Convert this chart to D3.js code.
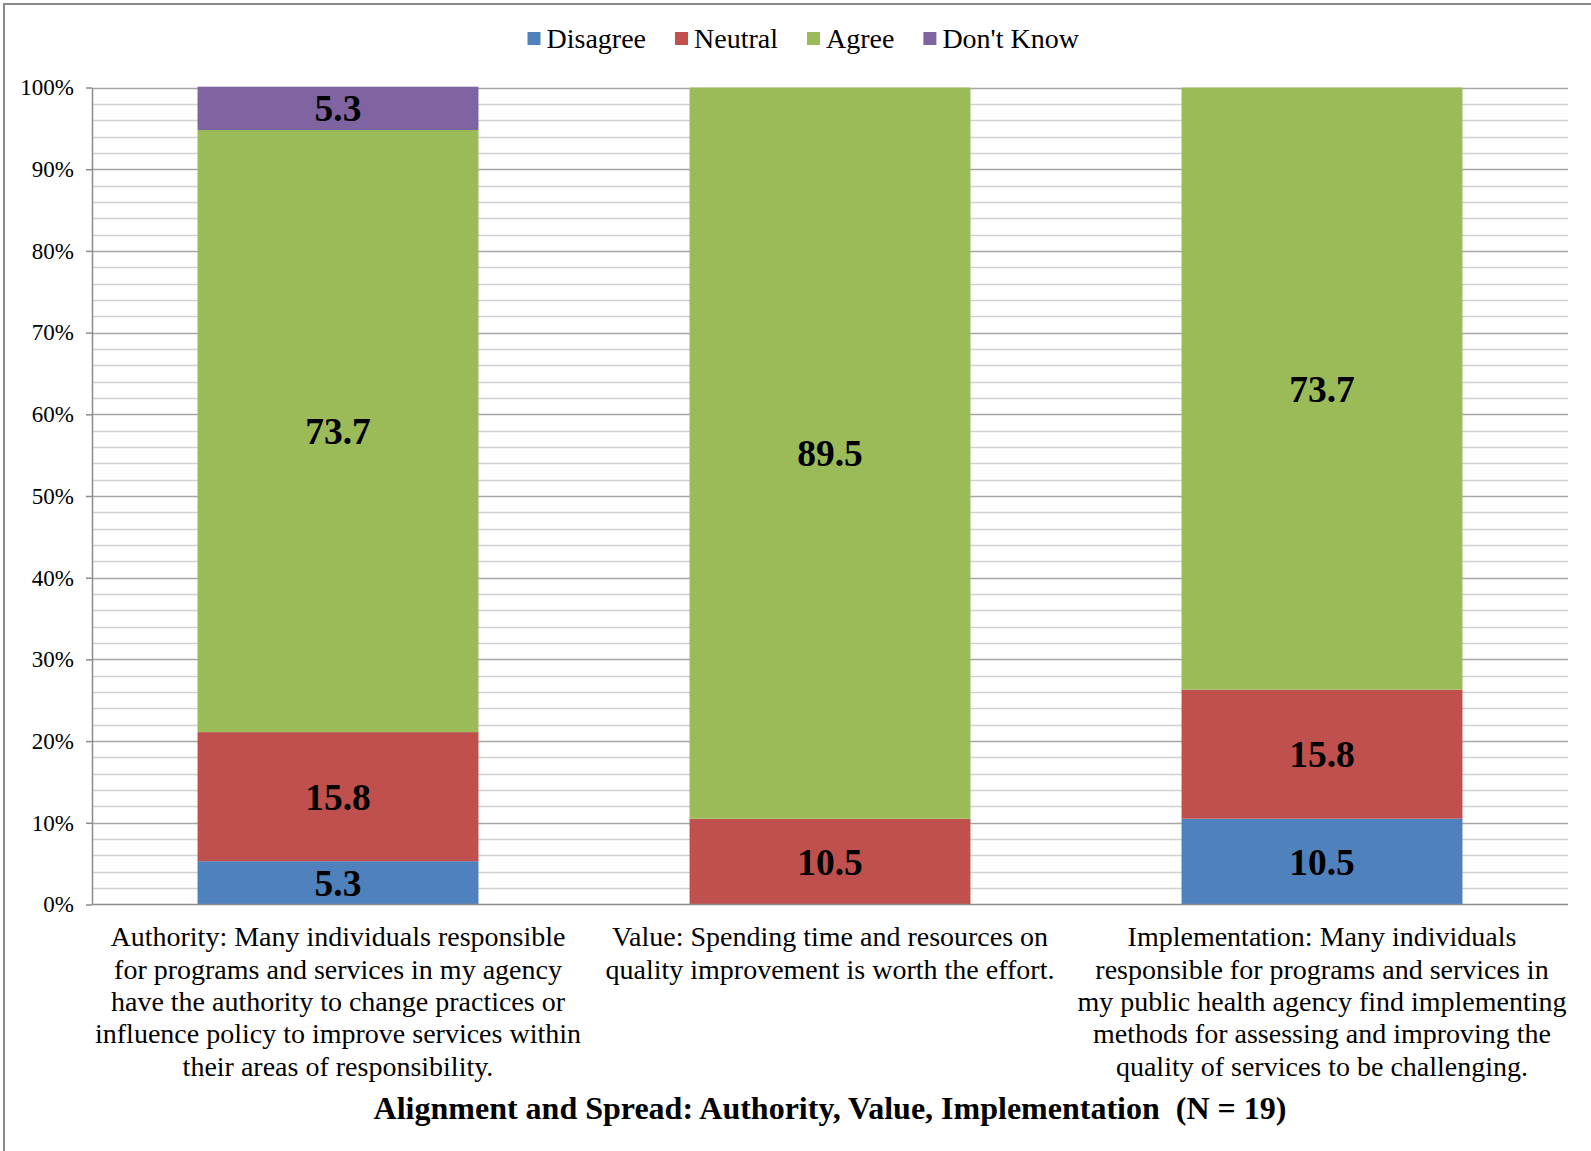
<!DOCTYPE html>
<html>
<head>
<meta charset="utf-8">
<script src="https://cdn.jsdelivr.net/npm/d3@7"></script>
<style>
  html, body { margin: 0; padding: 0; background: #fff; }
  svg { display: block; }
  text { font-family: "Liberation Serif", "Times New Roman", serif; fill: #000; }
</style>
</head>
<body>
<svg id="chart" width="1591" height="1151"></svg>
<script>
// ---- Data ----
const categories = [
  "Authority: Many individuals responsible for programs and services in my agency have the authority to change practices or influence policy to improve services within their areas of responsibility.",
  "Value: Spending time and resources on quality improvement is worth the effort.",
  "Implementation: Many individuals responsible for programs and services in my public health agency find implementing methods for assessing and improving the quality of services to be challenging."
];
const categoryLines = [
  ["Authority: Many individuals responsible", "for programs and services in my agency", "have the authority to change practices or", "influence policy to improve services within", "their areas of responsibility."],
  ["Value: Spending time and resources on", "quality improvement is worth the effort."],
  ["Implementation: Many individuals", "responsible for programs and services in", "my public health agency find implementing", "methods for assessing and improving the", "quality of services to be challenging."]
];
const seriesNames = ["Disagree", "Neutral", "Agree", "Don't Know"];
const disagree  = [5.3, 0, 10.5];
const neutral   = [15.8, 10.5, 15.8];
const agree     = [73.7, 89.5, 73.7];
const dontKnow  = [5.3, 0, 0];
const seriesColors = ["#4F81BD", "#C0504D", "#9BBB59", "#8064A2"];
const yTicks = [0, 10, 20, 30, 40, 50, 60, 70, 80, 90, 100];
const yMinorTicks = d3.range(0, 101, 2);
const titleText = "Alignment and Spread: Authority, Value, Implementation\u00a0\u00a0(N = 19)";

// ---- Layout ----
const svg = d3.select("#chart");
const FONT = '"Liberation Serif", "Times New Roman", serif';
const plot = { left: 92, right: 1568, top: 87.5, bottom: 904.5 };

// frame (left & top border)
svg.append("line").attr("x1", 4).attr("x2", 4).attr("y1", 3).attr("y2", 1151)
  .attr("stroke", "#8a8a8a").attr("stroke-width", 2);
svg.append("line").attr("x1", 3).attr("x2", 1591).attr("y1", 4).attr("y2", 4)
  .attr("stroke", "#8a8a8a").attr("stroke-width", 2);

const x = d3.scaleBand().domain(d3.range(categories.length))
  .range([plot.left, plot.right]).paddingInner(0.429).paddingOuter(0.2145);
const y = d3.scaleLinear().domain([0, 100]).range([plot.bottom, plot.top]);

// minor gridlines
svg.append("g").selectAll("line").data(yMinorTicks.filter(v => v % 10 !== 0)).join("line")
  .attr("x1", plot.left).attr("x2", plot.right)
  .attr("y1", d => Math.round(y(d)) + 0.5).attr("y2", d => Math.round(y(d)) + 0.5)
  .attr("stroke", "#d0d0d0").attr("stroke-width", 1.5);
// major gridlines
svg.append("g").selectAll("line").data(yTicks.filter(v => v > 0)).join("line")
  .attr("x1", plot.left).attr("x2", plot.right)
  .attr("y1", d => Math.round(y(d)) + 0.5).attr("y2", d => Math.round(y(d)) + 0.5)
  .attr("stroke", "#a6a6a6").attr("stroke-width", 1.5);

// y axis
const yAxis = d3.axisLeft(y).tickValues(yTicks).tickFormat(d => d + "%").tickSize(6).tickSizeOuter(0);
const gy = svg.append("g").attr("transform", `translate(${plot.left},0)`).call(yAxis)
  .attr("font-family", FONT).attr("font-size", 23);
gy.select(".domain").attr("stroke", "#8c8c8c").attr("stroke-width", 1.5);
gy.selectAll(".tick line").attr("stroke", "#8c8c8c").attr("stroke-width", 1.5);
gy.selectAll(".tick text").attr("x", -18).attr("dy", "0.32em")
  .style("font-family", FONT).style("font-size", "23px").attr("fill", "#000");

// stacked bars
const rows = categories.map((c, i) => ({
  idx: i, "Disagree": disagree[i], "Neutral": neutral[i], "Agree": agree[i], "Don't Know": dontKnow[i]
}));
const stack = d3.stack().keys(seriesNames)(rows);

const layers = svg.append("g").selectAll("g").data(stack).join("g")
  .attr("fill", (d, i) => seriesColors[i]);
layers.selectAll("rect").data(d => d.filter(s => s[1] - s[0] > 0)).join("rect")
  .attr("x", d => x(d.data.idx))
  .attr("width", x.bandwidth())
  .attr("y", d => y(d[1]))
  .attr("height", d => y(d[0]) - y(d[1]));

// x axis baseline
svg.append("line").attr("x1", plot.left).attr("x2", plot.right)
  .attr("y1", plot.bottom).attr("y2", plot.bottom)
  .attr("stroke", "#8c8c8c").attr("stroke-width", 1.5);

// data labels
const labelG = svg.append("g");
stack.forEach(layer => {
  layer.filter(s => s[1] - s[0] > 0).forEach(s => {
    labelG.append("text")
      .attr("x", x(s.data.idx) + x.bandwidth() / 2)
      .attr("y", (y(s[0]) + y(s[1])) / 2)
      .attr("dy", "0.35em")
      .attr("text-anchor", "middle")
      .style("font-size", "37.5px").style("font-weight", "bold")
      .text((s[1] - s[0]).toFixed(1));
  });
});

// category labels
categoryLines.forEach((lines, i) => {
  const cx = x(i) + x.bandwidth() / 2;
  const t = svg.append("text").attr("text-anchor", "middle").style("font-size", "28px");
  lines.forEach((ln, j) => {
    t.append("tspan").attr("x", cx).attr("y", 936.5 + j * 32.3).attr("dy", "0.35em").text(ln);
  });
});

// legend
const legend = svg.append("g");
let lx = 527.5;
seriesNames.forEach((name, i) => {
  legend.append("rect").attr("x", lx).attr("y", 32).attr("width", 13).attr("height", 13)
    .attr("fill", seriesColors[i]);
  const t = legend.append("text").attr("x", lx + 19).attr("y", 38.5).attr("dy", "0.35em")
    .style("font-size", "28px").text(name);
  lx += 19 + t.node().getComputedTextLength() + 29;
});

// title
svg.append("text")
  .attr("x", (plot.left + plot.right) / 2)
  .attr("y", 1108).attr("dy", "0.35em")
  .attr("text-anchor", "middle")
  .style("font-size", "32px").style("font-weight", "bold")
  .text(titleText);
</script>
</body>
</html>
